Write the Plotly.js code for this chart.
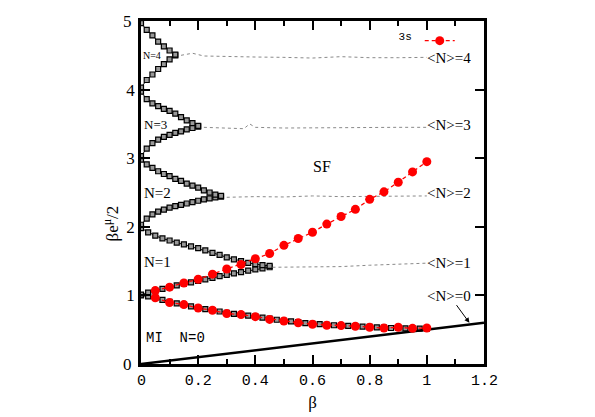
<!DOCTYPE html>
<html>
<head>
<meta charset="utf-8">
<script src="https://cdn.plot.ly/plotly-3.0.1.min.js"></script>
<style>
  body { margin: 0; background: #fff; }
  #grafico { width: 595px; height: 417px; }
</style>
</head>
<body>
<div id="grafico"></div>
<script>
// Lobe boundaries (black squares), one array pair per branch
let xA = [0, 0.025, 0.05, 0.075, 0.1, 0.125, 0.15, 0.175, 0.2, 0.225, 0.25, 0.275, 0.3, 0.325, 0.35, 0.375, 0.4, 0.425, 0.45, 0.475, 0.5, 0.525, 0.55, 0.575, 0.6, 0.625, 0.65, 0.675, 0.7, 0.725, 0.75, 0.775, 0.8, 0.825, 0.85, 0.875, 0.9, 0.925, 0.95, 0.975, 1.0];
let yA = [1.00, 0.985, 0.965, 0.935, 0.905, 0.885, 0.865, 0.84, 0.82, 0.80, 0.785, 0.765, 0.745, 0.73, 0.72, 0.705, 0.69, 0.675, 0.66, 0.645, 0.63, 0.62, 0.61, 0.595, 0.585, 0.58, 0.57, 0.565, 0.56, 0.555, 0.55, 0.545, 0.54, 0.535, 0.53, 0.525, 0.525, 0.52, 0.52, 0.515, 0.515];

let xB = [0, 0.025, 0.05, 0.075, 0.1, 0.125, 0.15, 0.175, 0.2, 0.225, 0.25, 0.275, 0.3, 0.325, 0.35, 0.375, 0.4, 0.425, 0.45];
let yB = [1.01, 1.04, 1.07, 1.095, 1.12, 1.145, 1.17, 1.19, 1.21, 1.235, 1.255, 1.28, 1.30, 1.32, 1.34, 1.36, 1.38, 1.395, 1.41];
let xC = xB;
let yC = [1.98, 1.92, 1.87, 1.83, 1.80, 1.77, 1.745, 1.715, 1.69, 1.655, 1.62, 1.59, 1.555, 1.525, 1.50, 1.475, 1.455, 1.44, 1.43];

let xD = [0, 0.02, 0.04, 0.06, 0.08, 0.1, 0.12, 0.14, 0.16, 0.18, 0.2, 0.22, 0.24, 0.26, 0.28];
let yD = [2.03, 2.12, 2.18, 2.22, 2.25, 2.28, 2.30, 2.32, 2.34, 2.36, 2.38, 2.40, 2.415, 2.43, 2.44];
let xE = xD;
let yE = [2.98, 2.91, 2.86, 2.81, 2.77, 2.74, 2.70, 2.67, 2.63, 2.60, 2.57, 2.53, 2.50, 2.47, 2.45];

let xF = [0, 0.02, 0.04, 0.06, 0.08, 0.1, 0.12, 0.14, 0.16, 0.18, 0.2];
let yF = [3.03, 3.14, 3.22, 3.27, 3.31, 3.34, 3.37, 3.39, 3.42, 3.44, 3.46];
let xG = xF;
let yG = [3.97, 3.86, 3.80, 3.76, 3.72, 3.69, 3.65, 3.60, 3.55, 3.51, 3.47];

let xH = [0, 0.02, 0.04, 0.06, 0.08, 0.1, 0.12];
let yH = [4.03, 4.14, 4.22, 4.30, 4.37, 4.44, 4.50];
let xI = xH;
let yI = [4.97, 4.87, 4.79, 4.70, 4.63, 4.57, 4.51];

// 3s (red circles)
let x3s = [0.05, 0.1, 0.15, 0.2, 0.25, 0.3, 0.35, 0.4, 0.45, 0.5, 0.55, 0.6, 0.65, 0.7, 0.75, 0.8, 0.85, 0.9, 0.95, 1.0];
let y3sAbajo = [0.965, 0.895, 0.866, 0.816, 0.783, 0.735, 0.72, 0.69, 0.65, 0.627, 0.60, 0.58, 0.565, 0.56, 0.55, 0.535, 0.525, 0.535, 0.52, 0.525];
let y3sArriba = [1.07, 1.12, 1.18, 1.235, 1.31, 1.385, 1.45, 1.535, 1.61, 1.73, 1.83, 1.92, 2.04, 2.15, 2.255, 2.40, 2.51, 2.65, 2.80, 2.95];

// <N>=k curves (dotted)
let xN4 = [0.14, 0.18, 0.22, 0.3, 0.4, 0.5, 0.6, 0.7, 0.8, 0.9, 1.0];
let yN4 = [4.50, 4.53, 4.49, 4.48, 4.475, 4.47, 4.46, 4.48, 4.465, 4.465, 4.47];
let xN3 = [0.22, 0.3, 0.36, 0.38, 0.40, 0.5, 0.6, 0.7, 0.8, 0.9, 1.0];
let yN3 = [3.45, 3.44, 3.43, 3.50, 3.45, 3.44, 3.445, 3.45, 3.445, 3.45, 3.45];
let xN2 = [0.3, 0.4, 0.5, 0.6, 0.7, 0.8, 0.9, 1.0];
let yN2 = [2.43, 2.44, 2.435, 2.45, 2.44, 2.445, 2.445, 2.45];
let xN1 = [0.46, 0.5, 0.6, 0.7, 0.8, 0.9, 1.0];
let yN1 = [1.41, 1.41, 1.42, 1.42, 1.44, 1.45, 1.47];

// <N>=0 line
let xN0 = [0, 1.2];
let yN0 = [0, 0.6];

// ticks: inner ones go on the axis, the end labels are written as annotations
let xTicks = [0.2, 0.4, 0.6, 0.8, 1];
let xMinor = [0.1, 0.3, 0.5, 0.7, 0.9, 1.1];
let yTicks = [1, 2, 3, 4];
let xExtremos = [0, 1.2];
let xExtremosTxt = ['0', '1.2'];
let yExtremos = [0, 5];
let yExtremosTxt = ['0', '5'];

// region labels
let etiquetas = ['N=4', 'N=3', 'N=2', 'N=1', 'MI  N=0', 'SF', '<N>=4', '<N>=3', '<N>=2', '<N>=1', '<N>=0'];
let etiqX = [0.039, 0.049, 0.056, 0.059, 0.122, 0.632, 1.079, 1.079, 1.079, 1.079, 1.079];
let etiqY = [4.50, 3.49, 2.49, 1.48, 0.385, 2.88, 4.46, 3.49, 2.49, 1.47, 0.99];

let ramas = [[xA, yA], [xB, yB], [xC, yC], [xD, yD], [xE, yE], [xF, yF], [xG, yG], [xH, yH], [xI, yI]];
let datos = [];

ramas.forEach(function (r) {
    datos.push({
        x: r[0], y: r[1], type: 'scatter', mode: 'lines+markers',
        line: {color: '#000', width: 1},
        marker: {symbol: 'square', size: 5, color: '#999', line: {width: 1.2, color: '#000'}},
        showlegend: false, hoverinfo: 'skip'
    });
});

[[xN4, yN4], [xN3, yN3], [xN2, yN2], [xN1, yN1]].forEach(function (r) {
    datos.push({
        x: r[0], y: r[1], type: 'scatter', mode: 'lines',
        line: {color: '#8a8a8a', width: 1, dash: 'dot'},
        showlegend: false, hoverinfo: 'skip'
    });
});

datos.push({
    x: xN0, y: yN0, type: 'scatter', mode: 'lines',
    line: {color: '#000', width: 2.5}, showlegend: false
});

datos.push({
    x: x3s, y: y3sAbajo, type: 'scatter', mode: 'lines+markers', name: ' ',
    line: {color: '#ff0000', width: 1.3, dash: '4px,3px'},
    marker: {symbol: 'circle', size: 9, color: '#ff0000'},
    showlegend: true
});
datos.push({
    x: x3s, y: y3sArriba, type: 'scatter', mode: 'lines+markers',
    line: {color: '#ff0000', width: 1.3, dash: '4px,3px'},
    marker: {symbol: 'circle', size: 9, color: '#ff0000'},
    showlegend: false
});

let tamanos = [10, 13, 15, 15, 14, 16, 15, 15, 15, 15, 15];
let anotaciones = etiquetas.map(function (t, i) {
    return {
        x: etiqX[i], y: etiqY[i], xref: 'x', yref: 'y', text: t.replace(/</g, '&lt;').replace(/>/g, '&gt;'),
        showarrow: false,
        font: {family: (t.indexOf('MI') === 0 ? 'Liberation Mono' : 'Liberation Serif'), size: tamanos[i], color: '#000'}
    };
});
// arrow from <N>=0 to the line
anotaciones.push({
    x: 1.149, y: 0.60, ax: 1.10, ay: 0.88, xref: 'x', yref: 'y', axref: 'x', ayref: 'y',
    text: '', showarrow: true, arrowhead: 2, arrowsize: 1, arrowwidth: 1, arrowcolor: '#000'
});
// y axis label, placed a bit below the middle as in the original
anotaciones.push({
    x: -0.125, y: 0.41, xref: 'paper', yref: 'paper', textangle: -90, showarrow: false,
    text: 'βe<sup>μ</sup>/2', font: {family: 'Liberation Serif', size: 17, color: '#000'}
});
// end tick labels
xExtremos.forEach(function (v, i) {
    anotaciones.push({
        x: v, y: -0.05, xref: 'x', yref: 'paper', yanchor: 'middle', showarrow: false,
        text: xExtremosTxt[i], font: {family: 'Liberation Mono', size: 15, color: '#000'}
    });
});
yExtremos.forEach(function (v, i) {
    anotaciones.push({
        x: -0.04, y: v, xref: 'paper', yref: 'y', xanchor: 'center', showarrow: false,
        text: yExtremosTxt[i], font: {family: 'Liberation Serif', size: 17, color: '#000'}
    });
});

let layout = {
    width: 595, height: 417,
    margin: {l: 141, r: 111, t: 21, b: 53},
    paper_bgcolor: '#fff', plot_bgcolor: '#fff',
    showlegend: true,
    legend: {
        x: 0.745, y: 0.985, xanchor: 'left', yanchor: 'top',
        bgcolor: 'rgba(0,0,0,0)',
        title: {text: '3s', side: 'left', font: {family: 'Liberation Mono', size: 11, color: '#000'}},
        font: {size: 11}
    },
    xaxis: {
        range: [0, 1.2], tickmode: 'array', tickvals: xTicks,
        showgrid: false, zeroline: false,
        showline: true, linecolor: '#000', linewidth: 2.5, mirror: 'ticks',
        ticks: 'inside', ticklen: 9, tickwidth: 2, tickcolor: '#000',
        minor: {tickmode: 'array', tickvals: xMinor, ticks: 'inside', ticklen: 5, tickwidth: 2, tickcolor: '#000'},
        tickfont: {family: 'Liberation Mono', size: 15, color: '#000'},
        title: {text: 'β', font: {family: 'Liberation Serif', size: 17, color: '#000'}, standoff: 8}
    },
    yaxis: {
        range: [0, 5], tickmode: 'array', tickvals: yTicks,
        showgrid: false, zeroline: false,
        showline: true, linecolor: '#000', linewidth: 2.5, mirror: 'ticks',
        ticks: 'inside', ticklen: 9, tickwidth: 2, tickcolor: '#000',
        tickfont: {family: 'Liberation Serif', size: 17, color: '#000'}
    },
    annotations: anotaciones
};

let contenedor = document.getElementById('grafico');
Plotly.newPlot(contenedor, datos, layout, {displayModeBar: false});
</script>
</body>
</html>
